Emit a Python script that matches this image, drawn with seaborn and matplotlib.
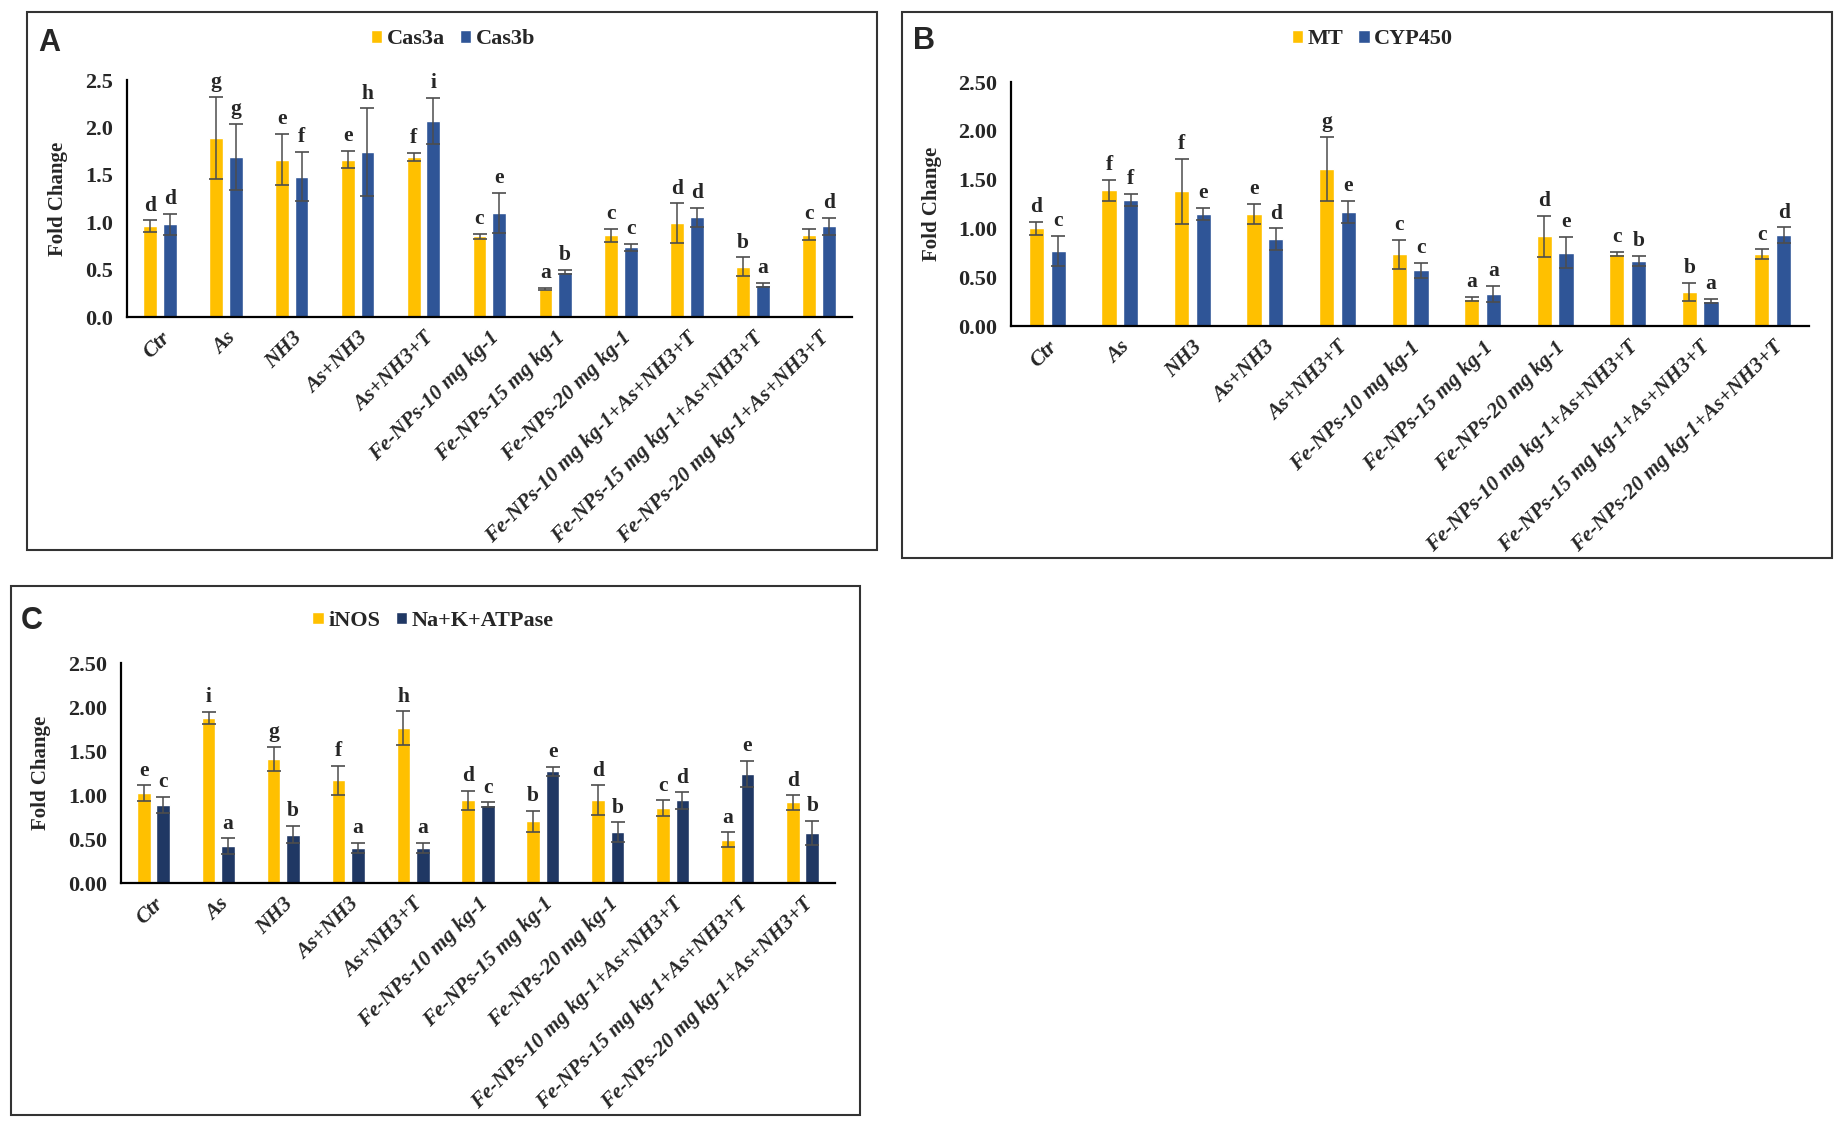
import pandas as pd
import matplotlib.pyplot as plt
import matplotlib.patches as mpatches
import numpy as np
import seaborn as sns

groups = ["Ctr", "As", "NH3", "As+NH3", "As+NH3+T",
          "Fe-NPs-10 mg kg-1", "Fe-NPs-15 mg kg-1", "Fe-NPs-20 mg kg-1",
          "Fe-NPs-10 mg kg-1+As+NH3+T", "Fe-NPs-15 mg kg-1+As+NH3+T",
          "Fe-NPs-20 mg kg-1+As+NH3+T"]

# panel A
cas3a = [0.96, 1.89, 1.66, 1.66, 1.69, 0.85, 0.30, 0.86, 0.99, 0.53, 0.87]
cas3a_err = [0.06, 0.43, 0.27, 0.09, 0.04, 0.03, 0.01, 0.07, 0.21, 0.10, 0.06]
cas3a_let = ["d", "g", "e", "e", "f", "c", "a", "c", "d", "b", "c"]
cas3b = [0.98, 1.69, 1.48, 1.74, 2.07, 1.10, 0.475, 0.735, 1.05, 0.34, 0.955]
cas3b_err = [0.11, 0.35, 0.26, 0.46, 0.24, 0.21, 0.02, 0.04, 0.10, 0.02, 0.09]
cas3b_let = ["d", "g", "f", "h", "i", "e", "b", "c", "d", "a", "d"]

# panel B
mt = [1.00, 1.39, 1.38, 1.15, 1.61, 0.735, 0.28, 0.92, 0.735, 0.35, 0.735]
mt_err = [0.07, 0.11, 0.33, 0.10, 0.33, 0.15, 0.02, 0.21, 0.02, 0.09, 0.05]
mt_let = ["d", "f", "f", "e", "g", "c", "a", "d", "c", "b", "c"]
cyp = [0.77, 1.29, 1.15, 0.89, 1.17, 0.57, 0.33, 0.75, 0.67, 0.26, 0.93]
cyp_err = [0.15, 0.06, 0.06, 0.11, 0.11, 0.08, 0.08, 0.16, 0.05, 0.02, 0.08]
cyp_let = ["c", "f", "e", "d", "e", "c", "a", "e", "b", "a", "d"]

# panel C
inos = [1.02, 1.875, 1.41, 1.165, 1.76, 0.94, 0.70, 0.94, 0.85, 0.49, 0.915]
inos_err = [0.09, 0.07, 0.14, 0.17, 0.19, 0.11, 0.12, 0.17, 0.09, 0.085, 0.08]
inos_let = ["e", "i", "g", "f", "h", "d", "b", "d", "c", "a", "d"]
atpase = [0.89, 0.42, 0.55, 0.40, 0.40, 0.89, 1.27, 0.58, 0.94, 1.24, 0.57]
atpase_err = [0.09, 0.09, 0.10, 0.06, 0.06, 0.03, 0.05, 0.11, 0.095, 0.15, 0.14]
atpase_let = ["c", "a", "b", "a", "a", "c", "e", "b", "d", "e", "b"]

yellow = "#FFC000"
blue = "#2F5597"
navy = "#203864"

sns.set_theme(style="white")
plt.rcParams['font.family'] = ['Liberation Serif', 'DejaVu Serif']

fig = plt.figure(figsize=(18.42, 11.27), dpi=100)


def panel(rect, names, vals, errs, lets, colors, ylim_fmt, letter, letter_xy, leg_xy, frame):
    fr = mpatches.Rectangle(frame[:2], frame[2], frame[3], transform=fig.transFigure,
                            fill=False, edgecolor="#333333", linewidth=1.5)
    fig.patches.append(fr)
    ax = fig.add_axes(rect)
    df = pd.DataFrame({
        "group": groups * 2,
        "gene": [names[0]] * len(groups) + [names[1]] * len(groups),
        "value": vals[0] + vals[1],
    })
    sns.barplot(data=df, x="group", y="value", hue="gene", order=groups,
                hue_order=names, palette=colors, width=0.6, gap=0.3,
                errorbar=None, saturation=1, ax=ax)
    bars = list(ax.containers)
    for k, cont in enumerate(bars):
        xs = [p.get_x() + p.get_width() / 2 for p in cont.patches]
        hs = [p.get_height() for p in cont.patches]
        ax.errorbar(xs, hs, yerr=errs[k], fmt="none", ecolor="#4d4d4d",
                    elinewidth=1.1, capsize=5, capthick=1.2)
        for x, h, e, t in zip(xs, hs, errs[k], lets[k]):
            ax.text(x, h + e + 0.05, t, ha="center", va="bottom", fontsize=15.5,
                    fontweight="bold", clip_on=False)
    ax.set_xlim(-0.5, 10.5)
    ax.set_ylim(0, 2.5)
    ax.set_yticks(np.arange(0, 2.51, 0.5))
    ax.set_yticklabels([ylim_fmt.format(v) for v in np.arange(0, 2.51, 0.5)],
                       fontsize=16, fontweight="bold")
    ax.set_xticks(range(len(groups)))
    ax.set_xticklabels(groups, rotation=45, ha="right", rotation_mode="anchor",
                       fontsize=15.5, fontweight="bold", fontstyle="italic")
    ax.tick_params(axis="y", length=0, pad=10)
    ax.tick_params(axis="x", length=0, pad=8)
    ax.set_xlabel("")
    ax.set_ylabel("Fold Change", fontsize=15, fontweight="bold", labelpad=12)
    for s in ["top", "right"]:
        ax.spines[s].set_visible(False)
    for s in ["left", "bottom"]:
        ax.spines[s].set_color("black")
        ax.spines[s].set_linewidth(1.6)
    handles, labs = ax.get_legend_handles_labels()
    ax.legend(handles, labs, loc="center", bbox_to_anchor=leg_xy,
              bbox_transform=fig.transFigure, ncol=2, frameon=False,
              handlelength=0.5, handleheight=0.5, handletextpad=0.2,
              columnspacing=0.7, prop={"size": 16, "weight": "bold"})
    fig.text(letter_xy[0], letter_xy[1], letter, fontsize=22, fontweight="bold",
             family="Liberation Sans", ha="center", va="center")
    return ax


panel([0.0689, 0.7187, 0.3936, 0.2103], ["Cas3a", "Cas3b"], [cas3a, cas3b],
      [cas3a_err, cas3b_err], [cas3a_let, cas3b_let], [yellow, blue], "{:.1f}",
      "A", (0.027, 0.962), (0.246, 0.965), (0.0147, 0.512, 0.4615, 0.4774))

panel([0.5489, 0.7107, 0.4332, 0.2165], ["MT", "CYP450"], [mt, cyp],
      [mt_err, cyp_err], [mt_let, cyp_let], [yellow, blue], "{:.2f}",
      "B", (0.5015, 0.964), (0.745, 0.965), (0.4897, 0.5049, 0.5049, 0.4845))

panel([0.0657, 0.2165, 0.3876, 0.1952], ["iNOS", "Na+K+ATPase"], [inos, atpase],
      [inos_err, atpase_err], [inos_let, atpase_let], [yellow, navy], "{:.2f}",
      "C", (0.0175, 0.449), (0.235, 0.449), (0.006, 0.0107, 0.4609, 0.4694))

plt.savefig("out.png", dpi=100)
plt.close()
